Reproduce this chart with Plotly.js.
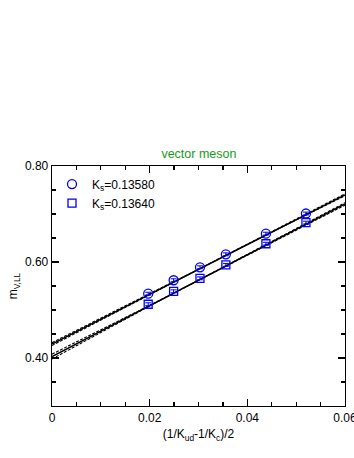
<!DOCTYPE html>
<html>
<head>
<meta charset="utf-8">
<script src="https://cdn.plot.ly/plotly-3.0.1.min.js"></script>
<style>
  body { margin: 0; background: #fff; }
  #plot { width: 354px; height: 458px; }
</style>
</head>
<body>
<div id="plot"></div>
<script>
// data
const xq = [0.0197, 0.0249, 0.0303, 0.0356, 0.0438, 0.0520];
const mA = [0.5340, 0.5620, 0.5890, 0.6160, 0.6590, 0.7010];   // Ks=0.13580
const mB = [0.5120, 0.5390, 0.5660, 0.5940, 0.6380, 0.6820];   // Ks=0.13640
const errA = [0.003, 0.003, 0.003, 0.003, 0.003, 0.003];
const errB = [0.003, 0.003, 0.003, 0.003, 0.003, 0.003];

// fit lines and error bands
const xf = [0, 0.01, 0.02, 0.03, 0.04, 0.05, 0.06];
const fitA = [0.4290, 0.4810, 0.5330, 0.5850, 0.6370, 0.6890, 0.7400];
const fitAhi = [0.4320, 0.4825, 0.5335, 0.5852, 0.6373, 0.6898, 0.7420];
const fitAlo = [0.4260, 0.4795, 0.5325, 0.5848, 0.6367, 0.6882, 0.7380];
const fitB = [0.4030, 0.4560, 0.5090, 0.5620, 0.6150, 0.6680, 0.7210];
const fitBhi = [0.4080, 0.4585, 0.5097, 0.5622, 0.6155, 0.6692, 0.7235];
const fitBlo = [0.3980, 0.4535, 0.5083, 0.5618, 0.6145, 0.6668, 0.7185];

const lineSolid = { color: '#000', width: 1.5 };
const lineDash = { color: '#000', width: 1.1, dash: '3px,1.5px' };

const traces = [
  { x: xf, y: fitAhi, mode: 'lines', line: lineDash, showlegend: false, hoverinfo: 'skip' },
  { x: xf, y: fitAlo, mode: 'lines', line: lineDash, showlegend: false, hoverinfo: 'skip' },
  { x: xf, y: fitA, mode: 'lines', line: lineSolid, showlegend: false, hoverinfo: 'skip' },
  { x: xf, y: fitBhi, mode: 'lines', line: lineDash, showlegend: false, hoverinfo: 'skip' },
  { x: xf, y: fitBlo, mode: 'lines', line: lineDash, showlegend: false, hoverinfo: 'skip' },
  { x: xf, y: fitB, mode: 'lines', line: lineSolid, showlegend: false, hoverinfo: 'skip' },
  {
    x: xq, y: mA, mode: 'markers', name: 'K<sub>s</sub>=0.13580',
    marker: { symbol: 'circle-open', size: 9, color: '#0000ff', line: { width: 1.3, color: '#0000ff' } },
    error_y: { type: 'data', array: errA, color: '#0000ff', thickness: 1, width: 3 }
  },
  {
    x: xq, y: mB, mode: 'markers', name: 'K<sub>s</sub>=0.13640',
    marker: { symbol: 'square-open', size: 8, color: '#0000ff', line: { width: 1.3, color: '#0000ff' } },
    error_y: { type: 'data', array: errB, color: '#0000ff', thickness: 1, width: 3 }
  }
];

const layout = {
  width: 354,
  height: 458,
  margin: { l: 52, r: 9, t: 166, b: 52 },
  paper_bgcolor: '#fff',
  plot_bgcolor: '#fff',
  font: { family: 'Liberation Sans, Arial, sans-serif', size: 12, color: '#000' },
  title: {
    text: 'vector meson',
    font: { size: 12.5, color: '#1a9a1a' },
    x: 0.562, xanchor: 'center', y: 1 - 154 / 458, yanchor: 'middle'
  },
  showlegend: true,
  legend: {
    x: 0.0, y: 0.985, xanchor: 'left', yanchor: 'top',
    bgcolor: 'rgba(0,0,0,0)', font: { size: 12 },
    itemwidth: 30, tracegroupgap: 0
  },
  xaxis: {
    range: [0, 0.06],
    tickvals: [0, 0.02, 0.04, 0.06],
    ticktext: ['0', '0.02', '0.04', '0.06'],
    ticklabeloverflow: 'allow',
    ticks: 'inside', ticklen: 7, tickwidth: 1.2, tickcolor: '#000',
    minor: { dtick: 0.005, ticks: 'inside', ticklen: 4, tickwidth: 1.2, tickcolor: '#000' },
    showline: true, linecolor: '#000', linewidth: 1.3, mirror: 'allticks',
    showgrid: false, zeroline: false,
    title: { text: '(1/K<sub>ud</sub>-1/K<sub>c</sub>)/2', font: { size: 12 }, standoff: 6 }
  },
  yaxis: {
    range: [0.3, 0.8],
    tickvals: [0.4, 0.6, 0.8],
    ticktext: ['0.40', '0.60', '0.80'],
    ticks: 'inside', ticklen: 7, tickwidth: 1.2, tickcolor: '#000',
    minor: { dtick: 0.05, ticks: 'inside', ticklen: 4, tickwidth: 1.2, tickcolor: '#000' },
    showline: true, linecolor: '#000', linewidth: 1.3, mirror: 'allticks',
    showgrid: false, zeroline: false,
    title: { text: 'm<sub>V,LL</sub>', font: { size: 12 }, standoff: 4 }
  }
};

Plotly.newPlot('plot', traces, layout, { displayModeBar: false, staticPlot: true });
</script>
</body>
</html>
